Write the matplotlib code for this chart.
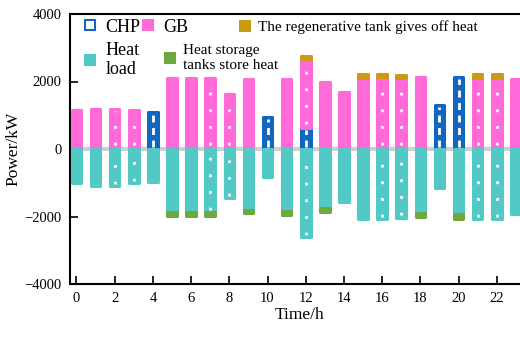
import matplotlib
matplotlib.use("Agg")
import matplotlib.pyplot as plt
from matplotlib.lines import Line2D
import numpy as np

hours = list(range(24))
chp = [0, 0, 0, 0, 1100, 0, 0, 0, 0, 0, 950, 0, 620, 0, 0, 0, 0, 0, 0, 1290, 2140, 0, 0, 0]
gb = [1160, 1180, 1180, 1150, 0, 2100, 2100, 2100, 1620, 2060, 0, 2080, 2040, 1980, 1700, 2110, 2120, 2100, 2120, 0, 0, 2110, 2110, 2080]
regen = [0, 0, 0, 0, 0, 0, 0, 0, 0, 0, 0, 0, 110, 0, 0, 100, 110, 90, 0, 0, 0, 100, 100, 0]
heat_load = [-1010, -1100, -1100, -1020, -990, -1880, -1880, -1880, -1460, -1800, -840, -1830, -2620, -1750, -1560,
             -2070, -2070, -2030, -1900, -1160, -1940, -2070, -2070, -1920]
store = [0, 0, 0, 0, 0, -110, -110, -110, 0, -110, 0, -130, 0, -110, 0, 0, 0, 0, -110, 0, -140, 0, 0, 0]
xticks = list(range(0, 24, 2))
yticks = [-4000, -2000, 0, 2000, 4000]
dotted_bars = [2, 3, 7, 8, 12, 16, 17, 21, 22]

C_CHP = "#1167BF"
C_GB = "#FF6AD8"
C_REG = "#C99A12"
C_LOAD = "#52C9C4"
C_STORE = "#6FA83C"

plt.rcParams['font.family'] = ['Liberation Serif', 'DejaVu Serif']

W, H = 520, 338
fig = plt.figure(figsize=(W / 100, H / 100), dpi=100)
ax = fig.add_axes([70 / W, 1 - 284 / H, 460 / W, 270 / H])

x = np.array(hours)
chp_a = np.array(chp); gb_a = np.array(gb); reg_a = np.array(regen)
load_a = np.array(heat_load); st_a = np.array(store)
bw = 0.5
kw = dict(width=bw, linewidth=2.2, joinstyle='round', zorder=3)


def sbar(vals, bottom, color):
    m = vals != 0
    ax.bar(x[m], vals[m], bottom=bottom[m], color=color, edgecolor=color, **kw)


zero = np.zeros_like(x)
ax.axhline(0, color='#D0D0D0', lw=3, zorder=2)
sbar(chp_a, zero, C_CHP)
sbar(gb_a, chp_a, C_GB)
sbar(reg_a, chp_a + gb_a, C_REG)
sbar(load_a, zero, C_LOAD)
sbar(st_a, load_a, C_STORE)

# white chain pattern in CHP bars
m = chp_a > 0
ax.vlines(x[m], 60, chp_a[m] - 60, colors='white', linestyles=(0, (2.5, 2)), lw=2.0, zorder=4)
# white dots on some bars
d = np.array(dotted_bars)
ax.vlines(d, chp_a[d] + 120, chp_a[d] + gb_a[d] - 60, colors='white', linestyles=(0, (1, 5)), lw=2.0, zorder=4)
ax.vlines(d, load_a[d] + 60, -120, colors='white', linestyles=(0, (1, 5)), lw=2.0, zorder=4)

ax.set_xlim(-0.34, 23.74)
ax.set_ylim(-4000, 4000)
ax.set_xticks(xticks)
ax.set_yticks(yticks)
ax.set_yticklabels(['\u22124000', '\u22122000', '0', '2000', '4000'])
ax.tick_params(axis='both', direction='in', length=6, width=1.2, labelsize=10.5, pad=6)
for s in ax.spines.values():
    s.set_linewidth(1.5)
ax.set_xlabel('Time/h', fontsize=12.5, labelpad=1)
ax.set_ylabel('Power/kW', fontsize=12.5, labelpad=2)


def leg(color, label, fs, mx, my, edge=None):
    fs_px = fs * 100 / 72
    hl = 0.7
    h = Line2D([], [], ls='none', marker='s', markersize=6.5, markerfacecolor=color,
               markeredgecolor=edge or color, markeredgewidth=1.5)
    lg = fig.legend([h], [label], loc='center left', bbox_to_anchor=((mx - hl * fs_px / 2) / W, 1 - my / H),
                    frameon=False, fontsize=fs, handlelength=hl, handletextpad=0.5, borderpad=0,
                    borderaxespad=0, labelspacing=0)
    return lg


leg('white', 'CHP', 13, 90, 27, edge=C_CHP)
leg(C_GB, 'GB', 13, 148, 27)
leg(C_REG, 'The regenerative tank gives off heat', 11, 245, 27)
leg(C_LOAD, 'Heat\nload', 13, 90, 60)
leg(C_STORE, 'Heat storage\ntanks store heat', 11, 170, 58)

fig.savefig('out.png', dpi=100)
